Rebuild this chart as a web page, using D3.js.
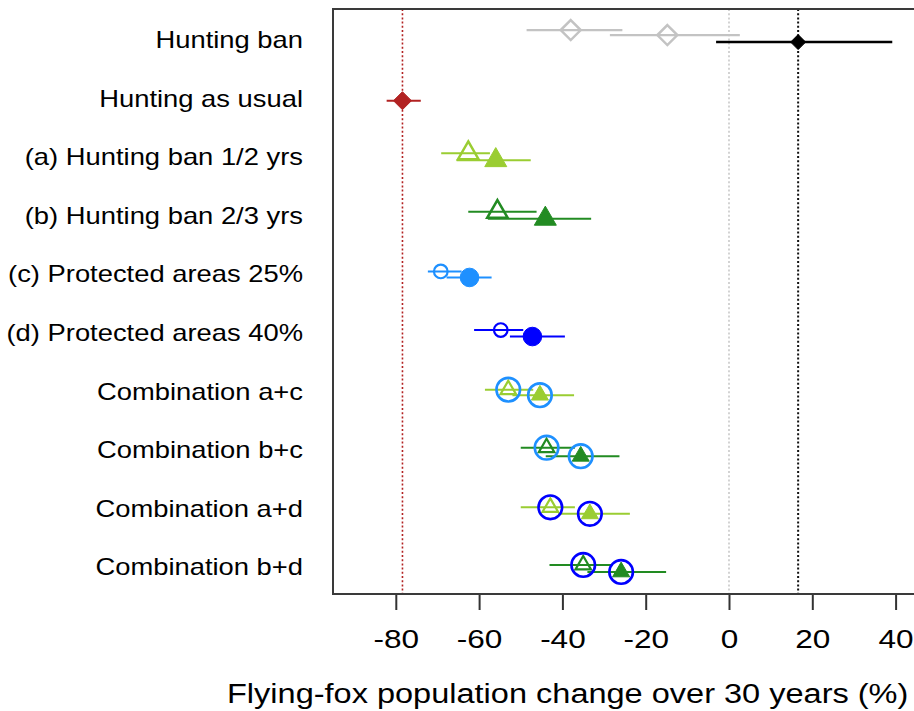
<!DOCTYPE html>
<html>
<head>
<meta charset="utf-8">
<script src="https://cdn.jsdelivr.net/npm/d3@7"></script>
<style>
  html, body { margin: 0; padding: 0; background: #fff; }
  svg { display: block; font-family: "Liberation Sans", Arial, sans-serif; }
</style>
</head>
<body>
<svg id="chart" width="914" height="711"></svg>
<script>
// ---------- data ----------
const scenarios = [
  "Hunting ban",
  "Hunting as usual",
  "(a) Hunting ban 1/2 yrs",
  "(b) Hunting ban 2/3 yrs",
  "(c) Protected areas 25%",
  "(d) Protected areas 40%",
  "Combination a+c",
  "Combination b+c",
  "Combination a+d",
  "Combination b+d"
];
const pointScenario = [0, 0, 0, 1, 2, 2, 3, 3, 4, 4, 5, 5, 6, 6, 7, 7, 8, 8, 9, 9];
const pointKind = [
  "ref1", "ref2", "ban", "usual",
  "a-open", "a-filled", "b-open", "b-filled",
  "c-open", "c-filled", "d-open", "d-filled",
  "ac-open", "ac-filled", "bc-open", "bc-filled",
  "ad-open", "ad-filled", "bd-open", "bd-filled"
];
const estimate = [-38.0, -14.8, 16.6, -78.4,
  -62.6, -56.0, -55.6, -44.1,
  -69.2, -62.3, -54.8, -47.2,
  -53.0, -45.4, -43.8, -35.6,
  -42.9, -33.4, -35.0, -25.9];
const lower = [-48.6, -28.6, -3.1, -82.2,
  -69.1, -65.4, -62.6, -57.9,
  -72.3, -67.8, -61.2, -52.6,
  -58.6, -52.0, -50.0, -44.0,
  -50.0, -41.0, -43.1, -34.0];
const upper = [-25.6, 2.6, 39.2, -74.0,
  -57.4, -47.6, -46.2, -33.1,
  -64.2, -57.0, -49.4, -39.4,
  -47.0, -37.2, -37.0, -26.3,
  -37.0, -23.8, -28.0, -15.1];
const xTicks = [-80, -60, -40, -20, 0, 20, 40];
const xTitle = "Flying-fox population change over 30 years (%)";

// ---------- styles (not data) ----------
const GREY = "#c3c3c3", RED = "#b22222", YG = "#9acd32", FG = "#228b22",
      DB = "#1e90ff", BL = "#0000ff";
const TEXT_STRETCH = 1.19;
const style = {
  "ref1":     {shape: "diamond", color: GREY, fill: false, r: 10, sw: 2.5, dy: -12, lw: 2.2},
  "ref2":     {shape: "diamond", color: GREY, fill: false, r: 10, sw: 2.5, dy: -7, lw: 2.2},
  "ban":      {shape: "diamond", color: "#000", fill: true, r: 7.5, sw: 1, dy: 0, lw: 2.5},
  "usual":    {shape: "diamond", color: RED, fill: true, r: 9, sw: 1, dy: 0, lw: 2},
  "a-open":   {shape: "tri", color: YG, fill: false, w: 20.5, sw: 2.5, dy: -6, lw: 2},
  "a-filled": {shape: "tri", color: YG, fill: true, w: 22, sw: 1, dy: 1, lw: 2},
  "b-open":   {shape: "tri", color: FG, fill: false, w: 20.5, sw: 2.5, dy: -6, lw: 2},
  "b-filled": {shape: "tri", color: FG, fill: true, w: 22, sw: 1, dy: 1, lw: 2},
  "c-open":   {shape: "circle", color: DB, fill: false, r: 6.8, sw: 2.2, dy: -5, lw: 2},
  "c-filled": {shape: "circle", color: DB, fill: true, r: 9.3, sw: 1, dy: 1, lw: 2},
  "d-open":   {shape: "circle", color: BL, fill: false, r: 6.8, sw: 2.2, dy: -5, lw: 2},
  "d-filled": {shape: "circle", color: BL, fill: true, r: 9.3, sw: 1, dy: 1.5, lw: 2},
  "ac-open":  {shape: "tri", color: YG, fill: false, w: 15.5, sw: 2.2, dy: -4, lw: 2, ring: DB},
  "ac-filled":{shape: "tri", color: YG, fill: true, w: 17, sw: 1, dy: 1.5, lw: 2, ring: DB},
  "bc-open":  {shape: "tri", color: FG, fill: false, w: 15.5, sw: 2.2, dy: -4.5, lw: 2, ring: DB},
  "bc-filled":{shape: "tri", color: FG, fill: true, w: 17, sw: 1, dy: 4, lw: 2, ring: DB},
  "ad-open":  {shape: "tri", color: YG, fill: false, w: 15.5, sw: 2.2, dy: -3.5, lw: 2, ring: BL},
  "ad-filled":{shape: "tri", color: YG, fill: true, w: 17, sw: 1, dy: 3, lw: 2, ring: BL},
  "bd-open":  {shape: "tri", color: FG, fill: false, w: 15.5, sw: 2.2, dy: -4.5, lw: 2, ring: BL},
  "bd-filled":{shape: "tri", color: FG, fill: true, w: 17, sw: 1, dy: 2.5, lw: 2, ring: BL}
};

// ---------- layout ----------
const plot = {left: 333, right: 916, top: 9, bottom: 594};
const pxPerUnit = 4.165, zeroX = 729;
const x = d3.scaleLinear()
  .domain([(plot.left - zeroX) / pxPerUnit, (plot.right - zeroX) / pxPerUnit])
  .range([plot.left, plot.right]);
const y = d3.scaleLinear().domain([0, scenarios.length - 1]).range([42.1, 569.4]);

const svg = d3.select("#chart");

// reference lines
const refs = [
  {v: estimate[pointKind.indexOf("usual")], c: RED, w: 1.6},
  {v: 0, c: "#c8c8c8", w: 1.6},
  {v: estimate[pointKind.indexOf("ban")], c: "#111", w: 2}
];
svg.append("g").selectAll("line").data(refs).join("line")
  .attr("x1", d => x(d.v)).attr("x2", d => x(d.v))
  .attr("y1", plot.top).attr("y2", plot.bottom)
  .attr("stroke", d => d.c).attr("stroke-width", d => d.w)
  .attr("stroke-dasharray", "2,2.2");

// x axis
const xAxis = d3.axisBottom(x).tickValues(xTicks).tickSize(16).tickPadding(0).tickFormat(d3.format("d"));
const gx = svg.append("g").attr("transform", `translate(0,${plot.bottom})`).call(xAxis);
gx.select(".domain").remove();
gx.selectAll(".tick line").attr("stroke", "#333").attr("stroke-width", 2);
gx.selectAll(".tick text")
  .attr("y", null).attr("dy", null)
  .attr("transform", `translate(0,54) scale(${TEXT_STRETCH},1)`)
  .attr("font-size", 26.5).attr("fill", "#000")
  .attr("font-family", "'Liberation Sans', Arial, sans-serif")
  .text(d => d < 0 ? "-" + Math.abs(d) : d);

// frame
svg.append("rect")
  .attr("x", plot.left).attr("y", plot.top)
  .attr("width", plot.right - plot.left).attr("height", plot.bottom - plot.top)
  .attr("fill", "none").attr("stroke", "#3a3a3a").attr("stroke-width", 2);

// y labels
svg.append("g").selectAll("text").data(scenarios).join("text")
  .attr("transform", (d, i) => `translate(303,${y(i) + 6}) scale(${TEXT_STRETCH},1)`)
  .attr("text-anchor", "end").attr("font-size", 23).attr("fill", "#000")
  .text(d => d);

// axis title
svg.append("text")
  .attr("transform", `translate(227,703) scale(1.205,1)`)
  .attr("font-size", 27).attr("fill", "#000")
  .text(xTitle);

// points
const pts = estimate.map((e, i) => ({
  e, lo: lower[i], hi: upper[i], row: pointScenario[i], s: style[pointKind[i]]
}));

const g = svg.append("g");
g.selectAll("line.ci").data(pts).join("line").attr("class", "ci")
  .attr("x1", d => x(d.lo)).attr("x2", d => x(d.hi))
  .attr("y1", d => y(d.row) + d.s.dy).attr("y2", d => y(d.row) + d.s.dy)
  .attr("stroke", d => d.s.color).attr("stroke-width", d => d.s.lw);

function shapePath(s) {
  if (s.shape === "diamond") {
    const r = s.r;
    return `M0,${-r}L${r},0L0,${r}L${-r},0Z`;
  }
  if (s.shape === "tri") {
    const area = Math.sqrt(3) / 4 * s.w * s.w;
    return d3.symbol(d3.symbolTriangle, area)();
  }
  return d3.symbol(d3.symbolCircle, Math.PI * s.r * s.r)();
}

const mk = g.selectAll("g.pt").data(pts).join("g").attr("class", "pt")
  .attr("transform", d => `translate(${x(d.e)},${y(d.row) + d.s.dy})`);
mk.append("path")
  .attr("d", d => shapePath(d.s))
  .attr("fill", d => d.s.fill ? d.s.color : "#fff")
  .attr("fill-opacity", d => d.s.fill ? 1 : 0)
  .attr("stroke", d => d.s.color)
  .attr("stroke-width", d => d.s.sw)
  .attr("stroke-linejoin", "miter");
mk.filter(d => d.s.ring).append("circle")
  .attr("r", 11.8).attr("fill", "none")
  .attr("stroke", d => d.s.ring).attr("stroke-width", 2.6);
</script>
</body>
</html>
